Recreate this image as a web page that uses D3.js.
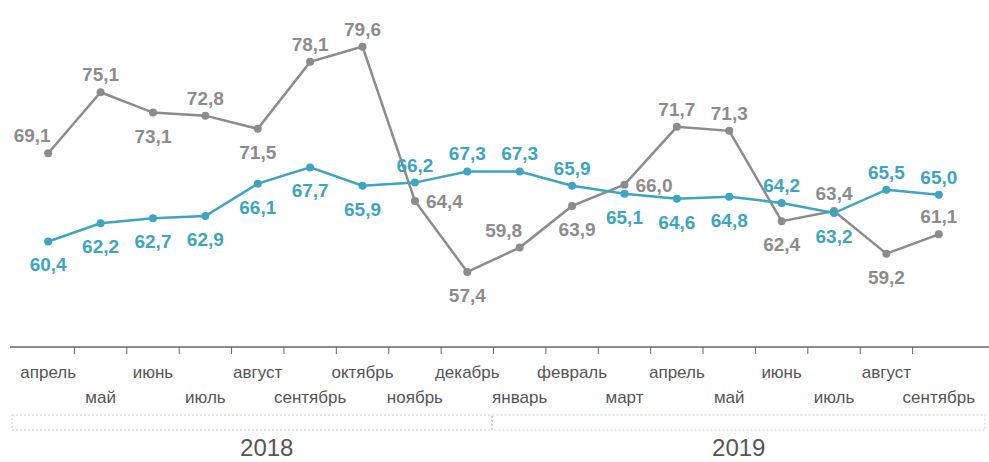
<!DOCTYPE html>
<html>
<head>
<meta charset="utf-8">
<script src="https://cdn.jsdelivr.net/npm/d3@7"></script>
<style>
  body { margin: 0; background: #fff; }
  svg { display: block; }
  .val { font-family: "Liberation Sans", Arial, sans-serif; font-weight: bold; font-size: 19px; }
  .month { font-family: "Liberation Sans Narrow", "Liberation Sans", Arial, sans-serif; font-size: 17px; fill: #555; }
  .year { font-family: "Liberation Sans Narrow", "Liberation Sans", Arial, sans-serif; font-size: 24px; fill: #555; }
</style>
</head>
<body>
<svg id="chart" width="989" height="462"></svg>
<script>
// months, April 2018 .. September 2019
const months = ['апрель', 'май', 'июнь', 'июль', 'август', 'сентябрь', 'октябрь', 'ноябрь', 'декабрь',
    'январь', 'февраль', 'март', 'апрель', 'май', 'июнь', 'июль', 'август', 'сентябрь']
const years = ['2018', '2019']
const yearSpan = [[0, 8], [9, 17]]   // first and last month index of each year

const grayValues = [69.1, 75.1, 73.1, 72.8, 71.5, 78.1, 79.6, 64.4, 57.4,
    59.8, 63.9, 66.0, 71.7, 71.3, 62.4, 63.4, 59.2, 61.1]
const blueValues = [60.4, 62.2, 62.7, 62.9, 66.1, 67.7, 65.9, 66.2, 67.3,
    67.3, 65.9, 65.1, 64.6, 64.8, 64.2, 63.2, 65.5, 65.0]

// where each value label sits relative to its point
const grayLabelPos = ['al', 'a', 'b', 'a', 'b', 'a', 'a', 'r', 'b',
    'al', 'br', 'r', 'a', 'a', 'b', 'a', 'b', 'a']
const blueLabelPos = ['b', 'b', 'b', 'b', 'b', 'b', 'b', 'a', 'a',
    'a', 'a', 'b', 'b', 'b', 'a', 'b', 'a', 'a']

const grayColor = '#8c8c8c'
const blueColor = '#3da5c1'

const svg = d3.select('#chart')
const axisY = 347

const x = d3.scaleBand()
    .domain(d3.range(months.length))
    .range([22, 965])

const y = d3.scaleLinear()
    .domain([50, 84])
    .range([axisY, 2])

const cx = i => x(i) + x.bandwidth() / 2
const fmt = v => d3.format('.1f')(v).replace('.', ',')

// axis line and ticks between months
svg.append('line')
    .attr('x1', 10).attr('x2', 989)
    .attr('y1', axisY).attr('y2', axisY)
    .attr('stroke', '#666').attr('stroke-width', 1.3)

svg.selectAll('.tick')
    .data(d3.range(1, months.length))
    .join('line')
        .attr('class', 'tick')
        .attr('x1', d => x(d)).attr('x2', d => x(d))
        .attr('y1', axisY).attr('y2', axisY + 7)
        .attr('stroke', '#666').attr('stroke-width', 1)

svg.selectAll('.month')
    .data(months)
    .join('text')
        .attr('class', 'month')
        .attr('x', (d, i) => cx(i))
        .attr('y', (d, i) => i % 2 === 0 ? 378 : 403)
        .attr('text-anchor', 'middle')
        .text(d => d)

// year brackets
years.forEach((yr, k) => {
    const x0 = x(yearSpan[k][0]), x1 = x(yearSpan[k][1]) + x.bandwidth()
    const left = k === 0 ? 12 : x0 - 1
    const right = k === 0 ? x1 - 2 : 985
    svg.append('rect')
        .attr('x', left).attr('y', 415)
        .attr('width', right - left).attr('height', 15)
        .attr('fill', 'none')
        .attr('stroke', '#ccc')
        .attr('stroke-dasharray', '2,2')
    svg.append('text')
        .attr('class', 'year')
        .attr('x', (left + right) / 2 + (k === 0 ? 15 : 0))
        .attr('y', 456)
        .attr('text-anchor', 'middle')
        .text(yr)
})

const line = d3.line()
    .x((d, i) => cx(i))
    .y(d => y(d))

function drawSeries(values, labelPos, color) {
    const g = svg.append('g')
    g.append('path')
        .attr('d', line(values))
        .attr('fill', 'none')
        .attr('stroke', color)
        .attr('stroke-width', 2.5)
    g.selectAll('circle')
        .data(values)
        .join('circle')
            .attr('cx', (d, i) => cx(i))
            .attr('cy', d => y(d))
            .attr('r', 4)
            .attr('fill', color)
    g.selectAll('text')
        .data(values)
        .join('text')
            .attr('class', 'val')
            .attr('fill', color)
            .attr('text-anchor', (d, i) => labelPos[i] === 'r' ? 'start' : 'middle')
            .attr('x', (d, i) => {
                const p = labelPos[i]
                if (p === 'r') return cx(i) + 11
                if (p === 'al') return cx(i) - 16
                if (p === 'br') return cx(i) + 5
                return cx(i)
            })
            .attr('y', (d, i) => {
                const p = labelPos[i]
                if (p === 'r') return y(d) + 7
                if (p === 'a' || p === 'al') return y(d) - 11
                return y(d) + 30
            })
            .text(d => fmt(d))
}

drawSeries(grayValues, grayLabelPos, grayColor)
drawSeries(blueValues, blueLabelPos, blueColor)
</script>
</body>
</html>
